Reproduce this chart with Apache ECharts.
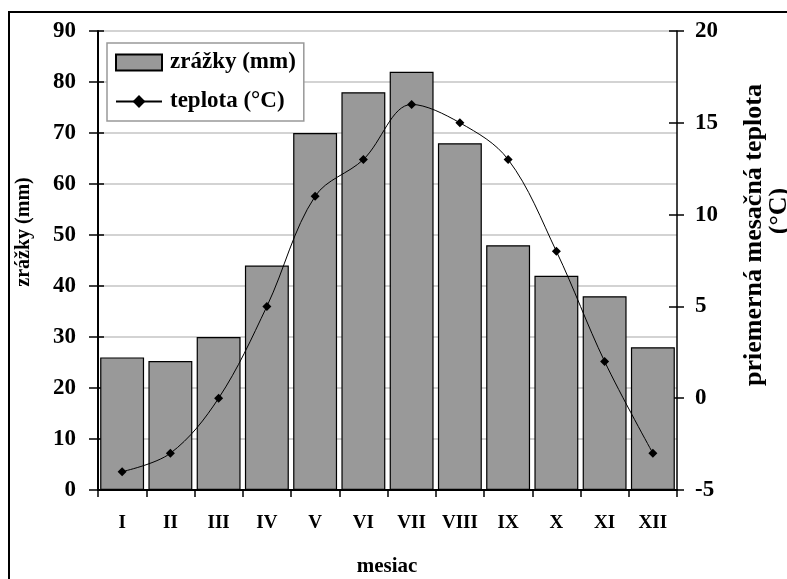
<!DOCTYPE html>
<html>
<head>
<meta charset="utf-8">
<script src="https://cdn.jsdelivr.net/npm/echarts@6/dist/echarts.min.js"></script>
<style>html,body{margin:0;padding:0;background:#fff;}#c{width:787px;height:579px;}</style>
</head>
<body>
<div id="c"></div>
<script>
var months = ['I','II','III','IV','V','VI','VII','VIII','IX','X','XI','XII'];
var zrazky = [26, 25.3, 30, 44, 70, 78, 82, 68, 48, 42, 38, 28];
var teplota = [-4, -3, 0, 5, 11, 13, 16, 15, 13, 8, 2, -3];
var leftTicks = {min: 0, max: 90, interval: 10};
var rightTicks = {min: -5, max: 20, interval: 5};

var F = 'Liberation Serif, Times New Roman, serif';
var chart = echarts.init(document.getElementById('c'), null, {renderer: 'canvas'});
var inv = {show: false};
chart.setOption({
  animation: false,
  backgroundColor: '#fff',
  grid: {left: 98, right: 110, top: 31, bottom: 89},
  legend: {
    left: 107, top: 43, orient: 'vertical',
    backgroundColor: '#fff', borderColor: '#999', borderWidth: 1.5,
    padding: [8, 8, 8, 8], itemGap: 16, itemWidth: 46, itemHeight: 16,
    textStyle: {fontFamily: F, fontWeight: 'bold', fontSize: 23, color: '#000', padding: [0, 0, 0, 3]},
    data: [{name: 'zrážky (mm)', icon: 'rect'}, {name: 'teplota (°C)'}]
  },
  xAxis: {
    type: 'category', data: months, boundaryGap: true,
    axisLine: {lineStyle: {color: '#000', width: 2}},
    axisTick: {show: true, interval: 0, length: 7, lineStyle: {color: '#000', width: 1.5}},
    axisLabel: {interval: 0, fontFamily: F, fontWeight: 'bold', fontSize: 19, color: '#000', margin: 24},
    splitLine: inv
  },
  yAxis: [
    {type: 'value', position: 'left', min: leftTicks.min, max: leftTicks.max, interval: leftTicks.interval,
     axisLine: {show: true, lineStyle: {color: '#000', width: 2}},
     axisTick: {show: true, length: 9, lineStyle: {color: '#000', width: 1.5}},
     axisLabel: {fontFamily: F, fontWeight: 'bold', fontSize: 23, color: '#000', margin: 22},
     splitLine: {show: true, lineStyle: {color: '#c4c4c4', width: 1.5}}},
    {type: 'value', position: 'right', min: rightTicks.min, max: rightTicks.max, interval: rightTicks.interval,
     axisLine: {show: true, lineStyle: {color: '#000', width: 1.5}},
     axisTick: {show: true, length: 7, lineStyle: {color: '#000', width: 1.5}},
     axisLabel: {fontFamily: F, fontWeight: 'bold', fontSize: 23, color: '#000', margin: 18},
     splitLine: inv},
    {type: 'value', position: 'left', min: leftTicks.min, max: leftTicks.max, interval: leftTicks.interval,
     axisLine: inv, axisLabel: inv, splitLine: inv,
     axisTick: {show: true, inside: true, length: 6, lineStyle: {color: '#000', width: 1.5}}},
    {type: 'value', position: 'right', min: rightTicks.min, max: rightTicks.max, interval: rightTicks.interval,
     axisLine: inv, axisLabel: inv, splitLine: inv,
     axisTick: {show: true, inside: true, length: 8, lineStyle: {color: '#000', width: 1.5}}}
  ],
  series: [
    {name: 'zrážky (mm)', type: 'bar', yAxisIndex: 0, data: zrazky, barCategoryGap: '9%',
     itemStyle: {color: '#999999', borderColor: '#000', borderWidth: 1.2}},
    {name: 'teplota (°C)', type: 'line', yAxisIndex: 1, data: teplota, smooth: 0.35,
     symbol: 'diamond', symbolSize: 9,
     lineStyle: {color: '#000', width: 1}, itemStyle: {color: '#000'}}
  ],
  graphic: [
    {type: 'rect', silent: true, z: 100, shape: {x: 9, y: 12, width: 820, height: 620},
     style: {fill: 'none', stroke: '#000', lineWidth: 2}},
    {type: 'text', x: 24, y: 232, rotation: Math.PI / 2, z: 100,
     style: {text: 'zrážky (mm)', font: 'bold 20px ' + F, fill: '#000', align: 'center', verticalAlign: 'middle'}},
    {type: 'text', x: 754, y: 235, rotation: Math.PI / 2, z: 100,
     style: {text: 'priemerná mesačná teplota', font: 'bold 26px ' + F, fill: '#000', align: 'center', verticalAlign: 'middle'}},
    {type: 'text', x: 779, y: 211, rotation: Math.PI / 2, z: 100,
     style: {text: '(°C)', font: 'bold 26px ' + F, fill: '#000', align: 'center', verticalAlign: 'middle'}},
    {type: 'text', x: 387, y: 567, z: 100,
     style: {text: 'mesiac', font: 'bold 21px ' + F, fill: '#000', align: 'center', verticalAlign: 'middle'}}
  ]
});
</script>
</body>
</html>
